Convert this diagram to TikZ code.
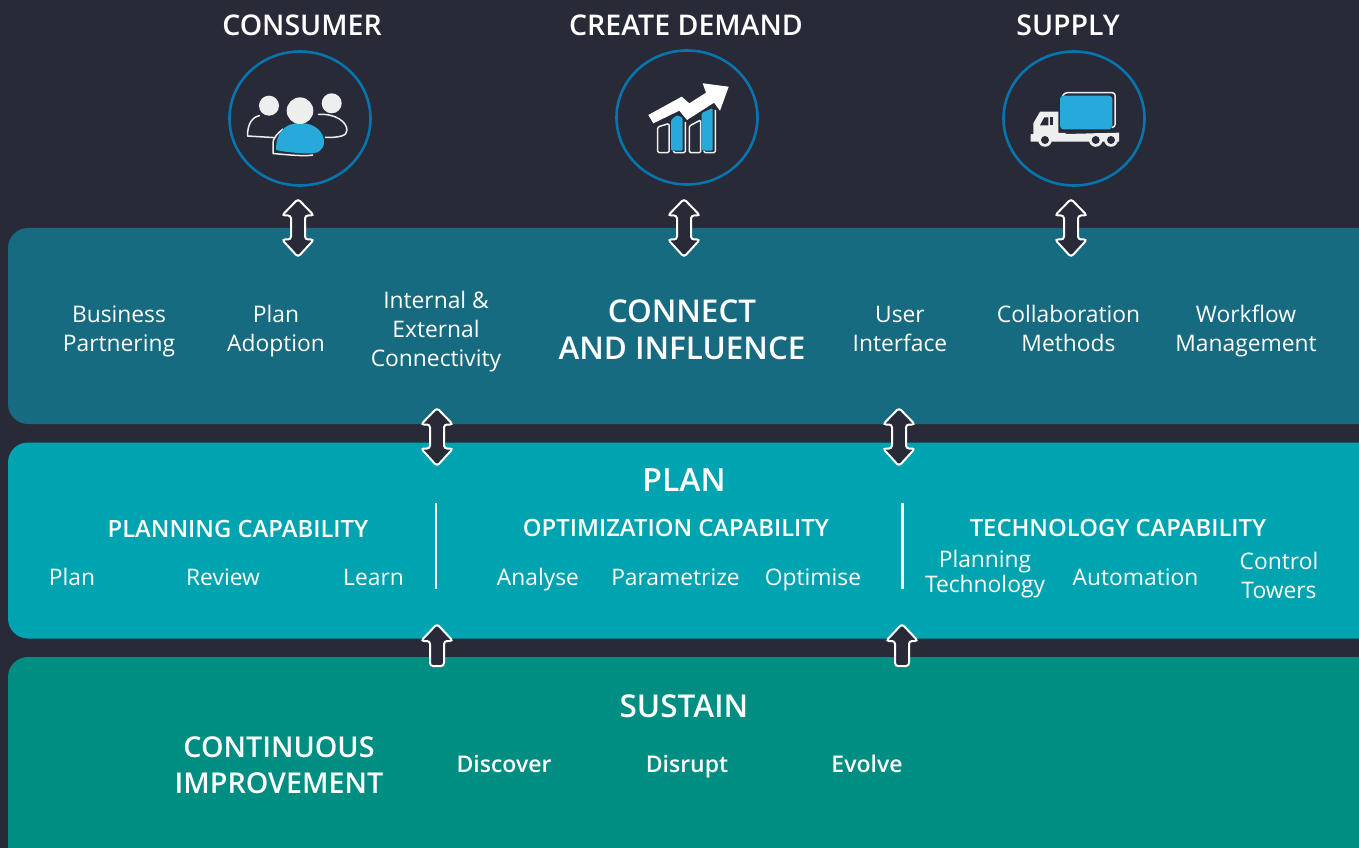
\documentclass[tikz,border=0pt]{standalone}
\usepackage{fontspec}
\usetikzlibrary{shapes.geometric}
\setmainfont{Open Sans}
\newfontfamily\semib{Open Sans Semibold}
\definecolor{bgc}{HTML}{282A38}
\definecolor{ringc}{HTML}{0874AE}
\definecolor{iconb}{HTML}{27A9DB}
\definecolor{iconw}{HTML}{EDEFEF}
\definecolor{connc}{HTML}{176B80}
\definecolor{planc}{HTML}{00A3B0}
\definecolor{sustc}{HTML}{008E82}
\newcommand{\pxl}[2]{\fontsize{\dimexpr#1pt*3/4\relax}{\dimexpr#2pt*3/4\relax}\selectfont}
\newcommand{\dblarrow}[1]{\draw[arrowbox,shift={#1}] (0,0) -- (16,16.5) -- (7,16.5) -- (7,40.5) -- (16,40.5) -- (0,58) -- (-16,40.5) -- (-7,40.5) -- (-7,16.5) -- (-16,16.5) -- cycle;}
\newcommand{\uparrowbox}[1]{\draw[arrowbox,shift={#1}] (0,0) -- (16,17) -- (7,17) -- (7,42) -- (-7,42) -- (-7,17) -- (-16,17) -- cycle;}
\tikzset{
  panel/.style={rounded corners=20*0.75pt},
  ringnode/.style={ellipse,draw=ringc,line width=2.6*0.75pt,minimum width=141*0.75pt,minimum height=134*0.75pt,inner sep=0pt},
  arrowbox/.style={draw=white,fill=bgc,line width=2*0.75pt,rounded corners=3*0.75pt},
  sep/.style={draw=white,line width=2.4*0.75pt},
  lbl/.style={text=white,align=center,inner sep=0pt,font=\pxl{22.8}{28.8}},
  hdr/.style={text=white,align=center,inner sep=0pt,font=\pxl{28.5}{34}\semib},
  sub/.style={text=white,align=center,inner sep=0pt,font=\pxl{23.8}{27}\semib},
  outl/.style={draw=iconw,line width=1.5*0.75pt,line join=round},
  bluef/.style={fill=iconb},
  whitef/.style={fill=iconw},
}
\begin{document}
\begin{tikzpicture}[x=0.75pt,y=-0.75pt]
\useasboundingbox (0,0) rectangle (1359,848);
\fill[bgc] (0,0) rectangle (1359,848);
% panels
\fill[connc,panel] (8,228) rectangle (1400,424);
\fill[planc,panel] (8,442.5) rectangle (1400,638.5);
\fill[sustc,panel] (8,657) rectangle (1400,880);
% top rings
\node[hdr] (tconsumer) at (302,28.5) {\strut CONSUMER};
\node[hdr] (tdemand) at (686,28.5) {\strut CREATE DEMAND};
\node[hdr] (tsupply) at (1068,28.5) {\strut SUPPLY};
\node[ringnode] (rconsumer) at (300,118.5) {};
\node[ringnode] (rdemand) at (687,117.5) {};
\node[ringnode] (rsupply) at (1074,118.5) {};
% consumer icon
\draw[outl] (260,115.5) .. controls (252,117) and (247.5,124) .. (247.5,136) -- (276,137.7);
\draw[outl] (318,114.5) .. controls (335,113) and (347,122) .. (347,130) .. controls (347,136) and (340,137.5) .. (325,137.5);
\fill[whitef] (269,105.7) circle (10);
\fill[whitef] (331.7,103.3) circle (10);
\draw[outl] (283,129) .. controls (277,134) and (273,138) .. (273,143) -- (273,153.5) .. controls (290,155) and (305,156.5) .. (313,155);
\fill[bluef] (276,150) .. controls (276,132) and (285,123) .. (300,123) .. controls (315,123) and (324,132) .. (324,142) .. controls (324,150) and (318,154) .. (308,153.5) .. controls (295,153) and (285,152) .. (276,150) -- cycle;
\fill[whitef] (300,110.7) circle (13.3);
% demand icon
\fill[white] (648.3,115) -- (681.7,96.7) -- (689.3,103.3) -- (706,92.7) -- (702.7,83.3) -- (728.7,86.7) -- (720,110.7) -- (714,102.7) -- (687,120) -- (679.3,110.7) -- (653.3,123.3) -- cycle;
\draw[outl,rounded corners=1pt] (657.7,127) -- (669,123.5) -- (669,152.7) -- (657.7,152.7) -- cycle;
\draw[outl,rounded corners=1pt] (673.5,151) -- (673.5,152.7) -- (685.3,152.7) -- (685.3,122);
\fill[bluef,rounded corners=1pt] (671,120) -- (677,115) -- (682.7,118) -- (682.7,150.7) -- (671,150.7) -- cycle;
\draw[outl,rounded corners=1pt] (689.3,126) -- (700.7,120) -- (700.7,152.7) -- (689.3,152.7) -- cycle;
\draw[outl,rounded corners=1pt] (704,151) -- (704,152.7) -- (715.3,152.7) -- (715.3,110);
\fill[bluef,rounded corners=1pt] (701.7,113) -- (712.7,108) -- (712.7,150.7) -- (701.7,150.7) -- cycle;
% supply icon
\draw[outl,rounded corners=2pt] (1062.7,96) -- (1064.5,92.7) -- (1115,92.7) -- (1115,127.3) -- (1112,127.3);
\fill[bluef,rounded corners=2.5pt] (1060,95.7) rectangle (1112.3,129.3);
\fill[whitef] (1033.3,134) -- (1033.3,123.3) -- (1040,111.7) -- (1058.3,111.7) -- (1058.3,133) -- (1065.7,133) -- (1065.7,134) -- (1119,132.7) -- (1119,141.7) -- (1030.7,141.7) -- (1030.7,134.3) -- cycle;
\fill[bgc] (1040,125.3) -- (1044.3,117.3) -- (1048.3,117.3) -- (1048.3,125.3) -- cycle;
\fill[bgc] (1050,117.3) rectangle (1053.3,125.3);
\foreach \wx in {1045,1095.7,1111}{
  \fill[whitef] (\wx,140) circle (6.8);
  \fill[bgc] (\wx,140) circle (4);
}
% arrows
\dblarrow{(298,199)}
\dblarrow{(684,199)}
\dblarrow{(1071,199)}
\dblarrow{(437,408)}
\dblarrow{(899,408)}
\uparrowbox{(437,624)}
\uparrowbox{(902,624)}
% connect and influence
\node[lbl] (bp) at (119,331.6) {\strut Business\\\strut Partnering};
\node[lbl] (pa) at (276,331.6) {\strut Plan\\\strut Adoption};
\node[lbl] (iec) at (436,331.6) {\strut Internal \&\\\strut External\\\strut Connectivity};
\node[hdr,font=\pxl{31.4}{37}\semib] (cai) at (682,334) {\strut CONNECT\\\strut AND INFLUENCE};
\node[lbl] (ui) at (900,331.6) {\strut User\\\strut Interface};
\node[lbl] (cm) at (1068.5,331.6) {\strut Collaboration\\\strut Methods};
\node[lbl] (wm) at (1246,331.6) {\strut Workflow\\\strut Management};
% plan
\node[hdr,font=\pxl{32}{35}\semib] (plan) at (684,484.5) {\strut PLAN};
\node[sub] (pc) at (238,532) {\strut PLANNING CAPABILITY};
\node[sub] (oc) at (676,531) {\strut OPTIMIZATION CAPABILITY};
\node[sub] (tc) at (1118,531) {\strut TECHNOLOGY CAPABILITY};
\node[lbl] (p1) at (72,580.2) {\strut Plan};
\node[lbl] (p2) at (223,580.2) {\strut Review};
\node[lbl] (p3) at (373.5,580.2) {\strut Learn};
\node[lbl] (o1) at (538,580.2) {\strut Analyse};
\node[lbl] (o2) at (675.5,580.2) {\strut Parametrize};
\node[lbl] (o3) at (813,580.2) {\strut Optimise};
\node[lbl,font=\pxl{22.8}{23}] (t1) at (985,575) {\strut Planning\\\strut Technology};
\node[lbl] (t2) at (1135.5,580.2) {\strut Automation};
\node[lbl] (t3) at (1279,578.6) {\strut Control\\\strut Towers};
\draw[sep] (436,503) -- (436,589);
\draw[sep] (902.5,503) -- (902.5,589);
% sustain
\node[hdr,font=\pxl{31.5}{36}\semib] (sustain) at (684,709.8) {\strut SUSTAIN};
\node[hdr,font=\pxl{28.7}{36}\semib] (ci) at (279,767.8) {\strut CONTINUOUS\\\strut IMPROVEMENT};
\node[sub,font=\pxl{23}{27}\semib] (d1) at (504,766.6) {\strut Discover};
\node[sub,font=\pxl{23}{27}\semib] (d2) at (687,766.6) {\strut Disrupt};
\node[sub,font=\pxl{23}{27}\semib] (d3) at (867,766.6) {\strut Evolve};
\end{tikzpicture}
\end{document}
